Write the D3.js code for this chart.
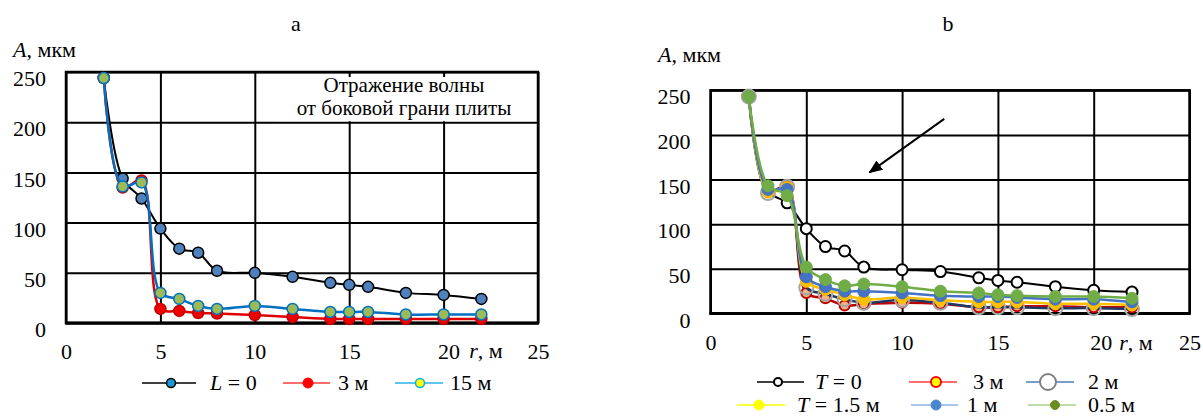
<!DOCTYPE html>
<html>
<head>
<meta charset="utf-8">
<script src="https://cdn.jsdelivr.net/npm/d3@7"></script>
<style>
  body { margin: 0; background: #fff; }
  svg { display: block; font-family: "Liberation Serif", "Times New Roman", serif; }
</style>
</head>
<body>
<svg id="fig" width="1203" height="416"></svg>
<script>
// distance from the source, m
const distances = [2, 3, 4, 5, 6, 7, 8, 10, 12, 14, 15, 16, 18, 20, 22];

// panel a: amplitude, µm, for slab offset L
const ampL0  = [244, 144, 124, 94, 74, 70, 52, 50, 46, 40, 38, 36, 30, 28, 24];
const ampL3  = [244, 135, 142, 14, 12, 10, 9.5, 8, 6, 4, 4, 4, 4, 4, 4];
const ampL15 = [244, 136, 140, 30, 24, 17, 14, 17, 14, 11, 11, 11, 8.5, 8.5, 8.5];

// panel b: amplitude, µm, for trench depth T
const ampT0  = [243, 137, 124, 95, 75, 70, 52, 49, 47, 40, 37, 35, 30, 26, 24];
const ampT3  = [243, 137, 142, 23, 17, 9, 10.5, 12, 11, 7, 7, 8, 8, 7, 7];
const ampT2  = [243, 135, 142, 29, 22, 16, 12, 15, 12, 7, 7, 7, 6, 6, 5];
const ampT15 = [243, 136, 141, 36, 27, 21, 16, 18, 15, 13, 13, 13, 11, 11, 9.5];
const ampT1  = [243, 139, 139, 41, 30, 25, 25, 23, 20, 19, 19, 18, 16, 16, 13];
const ampT05 = [243, 143, 132, 52, 38, 31, 33, 30, 25, 23, 21, 20, 19, 19, 17];

const xTickValues = [0, 5, 10, 15, 20, 25];
const yTickValues = [0, 50, 100, 150, 200, 250];

const svg = d3.select("#fig");
const FS = 22;
const SERIF = "'Liberation Serif', 'Times New Roman', serif";

function drawPanel(cfg) {
  const x = d3.scaleLinear().domain([0, 25]).range(cfg.xRange);
  const y = d3.scaleLinear().domain([0, 250]).range(cfg.yRange);
  const g = svg.append("g");
  const [x0, x1] = cfg.xRange;
  const [y0, y1] = cfg.yRange;

  // vertical grid + x tick labels
  const gx = g.append("g")
    .attr("transform", `translate(0,${y0})`)
    .call(d3.axisBottom(x).tickValues(xTickValues).tickSize(-(y0 - y1)).tickSizeOuter(0).tickPadding(cfg.xPad));
  // horizontal grid + y tick labels
  const gy = g.append("g")
    .attr("transform", `translate(${x0},0)`)
    .call(d3.axisLeft(y).tickValues(yTickValues).tickSize(-(x1 - x0)).tickSizeOuter(0).tickPadding(cfg.yPad));
  [gx, gy].forEach(a => {
    a.attr("font-family", SERIF).attr("font-size", FS);
    a.select(".domain").remove();
    a.selectAll("line").attr("stroke", "#000").attr("stroke-width", 2);
    a.selectAll("text").attr("fill", "#000");
  });
  gy.selectAll("text").attr("dy", "0.62em");
  gx.selectAll("text").filter(d => d === 20).attr("dx", cfg.dx20 || 0);

  if (cfg.note) cfg.note(g, x, y);

  // plot frame
  g.append("rect").attr("x", x0).attr("y", y1).attr("width", x1 - x0).attr("height", y0 - y1)
    .attr("fill", "none").attr("stroke", "#000").attr("stroke-width", 2.5);
  g.append("line").attr("x1", x0 - 1).attr("x2", x1 + 1).attr("y1", y0).attr("y2", y0)
    .attr("stroke", "#000").attr("stroke-width", 3);

  // series
  const line = d3.line()
    .x(d => x(d[0])).y(d => y(d[1]))
    .curve(d3.curveCatmullRom.alpha(0.5));
  cfg.series.forEach(s => {
    const pts = distances.map((r, i) => [r, s.values[i]]);
    g.append("path").datum(pts)
      .attr("d", line).attr("fill", "none")
      .attr("stroke", s.line).attr("stroke-width", s.lw || 2);
    g.append("g").selectAll("circle").data(pts).join("circle")
      .attr("cx", d => x(d[0])).attr("cy", d => y(d[1]))
      .attr("r", s.r).attr("fill", s.fill)
      .attr("stroke", s.stroke).attr("stroke-width", s.sw);
  });

  // titles
  svg.append("text").attr("x", cfg.title[0]).attr("y", cfg.title[1])
    .attr("text-anchor", "middle").attr("font-size", FS).text(cfg.titleText);
  const yt = svg.append("text").attr("x", cfg.yTitle[0]).attr("y", cfg.yTitle[1]).attr("font-size", FS);
  yt.append("tspan").attr("font-style", "italic").text("A");
  yt.append("tspan").text(", мкм");
  const xt = svg.append("text").attr("x", cfg.xTitle[0]).attr("y", cfg.xTitle[1])
    .attr("text-anchor", "middle").attr("font-size", FS);
  xt.append("tspan").attr("font-style", "italic").text("r");
  xt.append("tspan").text(", м");

  // legend
  cfg.legend.forEach(it => {
    const lg = svg.append("g");
    lg.append("line").attr("x1", it.lx[0]).attr("x2", it.lx[1]).attr("y1", it.y).attr("y2", it.y)
      .attr("stroke", it.line).attr("stroke-width", 1.5);
    lg.append("circle").attr("cx", it.mx).attr("cy", it.y).attr("r", it.r)
      .attr("fill", it.fill).attr("stroke", it.stroke).attr("stroke-width", it.sw);
    const t = lg.append("text").attr("x", it.tx).attr("y", it.y + 7).attr("font-size", FS);
    if (it.sym) {
      t.append("tspan").attr("font-style", "italic").text(it.sym);
      t.append("tspan").text(it.label);
    } else {
      t.text(it.label);
    }
  });
  return { x, y, g };
}

// ---------- panel a ----------
drawPanel({
  xRange: [66, 538], yRange: [323, 72], xPad: 20, yPad: 20, dx20: 5,
  title: [296, 31], titleText: "a",
  yTitle: [13, 57], xTitle: [486, 358],
  note: (g, x, y) => {
    g.append("rect").attr("x", x(11.2)).attr("y", y(245)).attr("width", x(25) - x(11.2))
      .attr("height", y(201) - y(245)).attr("fill", "#fff");
    g.append("text").attr("x", x(17.9)).attr("y", y(230.5)).attr("text-anchor", "middle")
      .attr("font-size", 21).text("Отражение волны");
    g.append("text").attr("x", x(17.9)).attr("y", y(207)).attr("text-anchor", "middle")
      .attr("font-size", 21).text("от боковой грани плиты");
  },
  series: [
    { values: ampL0,  line: "#000",    lw: 2,   r: 5.5, fill: "#4f81bd", stroke: "#000",    sw: 1.5 },
    { values: ampL3,  line: "#e00000", lw: 2.5, r: 5.5, fill: "#ee0000", stroke: "#c00000", sw: 1.5 },
    { values: ampL15, line: "#0070c0", lw: 2.5, r: 5.5, fill: "#9bbb59", stroke: "#0070c0", sw: 1.5 }
  ],
  legend: [
    { y: 383, lx: [142, 196], mx: 171, tx: 210, sym: "L", label: " = 0", line: "#000", r: 4.5, fill: "#1a9ad6", stroke: "#000", sw: 1.5 },
    { y: 383, lx: [283, 330], mx: 308, tx: 338, label: "3 м", line: "#ff3b3b", r: 5, fill: "#ff0000", stroke: "#ff0000", sw: 1 },
    { y: 383, lx: [395, 443], mx: 420, tx: 450, label: "15 м", line: "#2ab0e8", r: 4.5, fill: "#ffff00", stroke: "#00b0f0", sw: 1.5 }
  ]
});

// ---------- panel b ----------
const pb = drawPanel({
  xRange: [710.5, 1189.5], yRange: [313.5, 90.3], xPad: 21, yPad: 20, dx20: 7,
  title: [948, 31], titleText: "b",
  yTitle: [658, 62], xTitle: [1136, 350],
  series: [
    { values: ampT0,  line: "#000",    lw: 2,   r: 5.5, fill: "#fff",    stroke: "#000",    sw: 2 },
    { values: ampT3,  line: "#c00000", lw: 2.5, r: 5,   fill: "#f4b183", stroke: "#c00000", sw: 2 },
    { values: ampT2,  line: "#1f3864", lw: 2.5, r: 7,   fill: "none",    stroke: "#a5a5a5", sw: 2 },
    { values: ampT15, line: "#ffc000", lw: 2.5, r: 6,   fill: "#ffc000", stroke: "#ffc000", sw: 1 },
    { values: ampT1,  line: "#4472c4", lw: 2.5, r: 6,   fill: "#4472c4", stroke: "#4472c4", sw: 1 },
    { values: ampT05, line: "#70ad47", lw: 2.5, r: 6,   fill: "#70ad47", stroke: "#70ad47", sw: 1 }
  ],
  legend: [
    { y: 382, lx: [757, 804], mx: 778, tx: 815, sym: "T", label: " = 0", line: "#000", r: 4, fill: "#fff", stroke: "#000", sw: 2 },
    { y: 382, lx: [909, 957], mx: 936, tx: 973, label: "3 м", line: "#ff3b3b", r: 5, fill: "#ffff00", stroke: "#ff0000", sw: 2 },
    { y: 382, lx: [1026, 1074], mx: 1048, tx: 1088, label: "2 м", line: "#4a7ebb", r: 8, fill: "#fff", stroke: "#808080", sw: 2 },
    { y: 405, lx: [737, 785], mx: 759, tx: 797, sym: "T", label: " = 1.5 м", line: "#ffff00", r: 5, fill: "#ffff00", stroke: "#ffff00", sw: 1 },
    { y: 405, lx: [911, 958], mx: 936, tx: 967, label: "1 м", line: "#8db4e2", r: 5, fill: "#4a86d0", stroke: "#4a86d0", sw: 1 },
    { y: 405, lx: [1028, 1076], mx: 1055, tx: 1088, label: "0.5 м", line: "#a9d18e", r: 4.5, fill: "#6b8e23", stroke: "#6b8e23", sw: 1 }
  ]
});

// arrow pointing at the reflected-wave zone in panel b
svg.append("defs").append("marker")
  .attr("id", "head").attr("viewBox", "0 0 10 10").attr("refX", 9).attr("refY", 5)
  .attr("markerWidth", 7).attr("markerHeight", 7).attr("orient", "auto")
  .append("path").attr("d", "M0,1 L10,5 L0,9 Z").attr("fill", "#000");
svg.append("line")
  .attr("x1", pb.x(12.2)).attr("y1", pb.y(218))
  .attr("x2", pb.x(8.3)).attr("y2", pb.y(158))
  .attr("stroke", "#000").attr("stroke-width", 2)
  .attr("marker-end", "url(#head)");
</script>
</body>
</html>
